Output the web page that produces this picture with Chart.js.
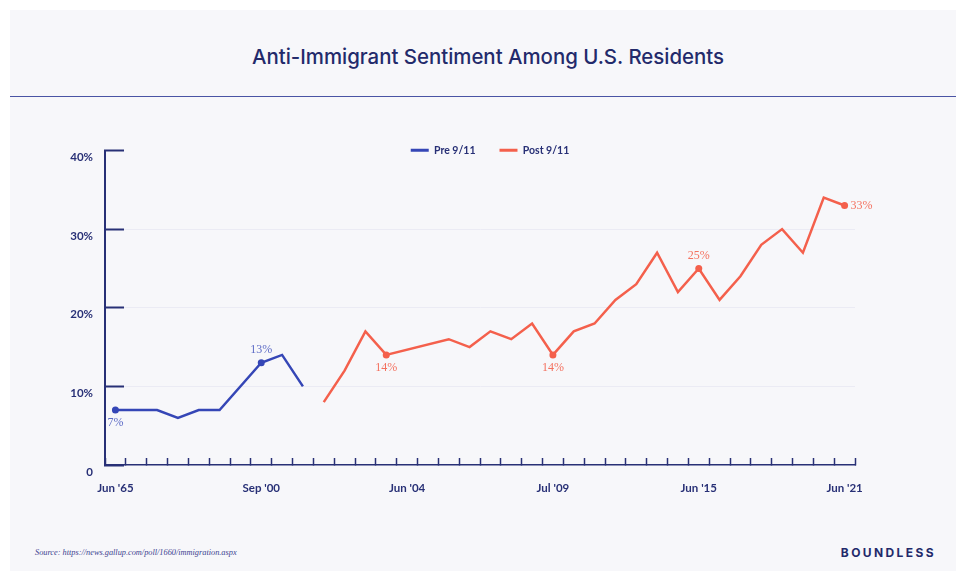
<!DOCTYPE html>
<html>
<head>
<meta charset="utf-8">
<title>Anti-Immigrant Sentiment Among U.S. Residents</title>
<script src="https://cdn.jsdelivr.net/npm/chart.js@4.4.1/dist/chart.umd.min.js"></script>
<style>
  html, body { margin: 0; padding: 0; background: #fff; }
  body { width: 956px; height: 571px; position: relative; overflow: hidden; font-family: Inter, "Noto Sans", sans-serif; }
  .card { position: absolute; left: 10px; top: 10px; right: 0; bottom: 0; background: #f7f7fa; }
  .head { position: absolute; left: 10px; top: 10px; right: 0; height: 86px; border-bottom: 1.5px solid #4a54a4; }
  .head h1 { margin: 0; padding-left: 10px; text-align: center; line-height: 94px; font-size: 20.4px; font-weight: 500; color: #232a6b; }
  #wrap { position: absolute; left: 0; top: 106px; width: 956px; height: 414px; }
  .src { position: absolute; left: 35px; top: 548px; font: italic 8.3px "Liberation Serif", serif; color: #3b4290; }
  .brand { position: absolute; right: 20px; top: 545px; font-size: 12px; font-weight: 700; letter-spacing: 2.4px; color: #232a6b; }
</style>
</head>
<body>
<div class="card"></div>
<div class="head"><h1>Anti-Immigrant Sentiment Among U.S. Residents</h1></div>
<div id="wrap"><canvas id="g-sentimento" width="956" height="414"></canvas></div>
<div class="src">Source: https://news.gallup.com/poll/1660/immigration.aspx</div>
<div class="brand">BOUNDLESS</div>

<script>
// survey dates, only every seventh one is labelled on the axis
var tickLabels = ["Jun '65", "Sep '00", "Jun '04", "Jul '09", "Jun '15", "Jun '21"];
var categories = [
  "Jun '65", '', '', '', '', '', '',
  "Sep '00", '', '', '', '', '', '',
  "Jun '04", '', '', '', '', '', '',
  "Jul '09", '', '', '', '', '', '',
  "Jun '15", '', '', '', '', '', '',
  "Jun '21"
];

// % who want immigration decreased "a lot"
var preValues = [7, 7, 7, 6, 7, 7, null, 13, 14, 10,
  null, null, null, null, null, null, null, null, null, null,
  null, null, null, null, null, null, null, null, null, null,
  null, null, null, null, null, null];
var postValues = [null, null, null, null, null, null, null, null, null, null,
  8, 12, 17, 14, null, null, 16, 15, 17, 16,
  18, 14, 17, 18, 21, 23, 27, 22, 25, 21,
  24, 28, 30, 27, 34, 33];

// points that get a dot and a value label
var callouts = [
  { set: 0, index: 0, side: 'below' },
  { set: 0, index: 7, side: 'above' },
  { set: 1, index: 13, side: 'below' },
  { set: 1, index: 21, side: 'below' },
  { set: 1, index: 28, side: 'above' },
  { set: 1, index: 35, side: 'right' }
];

var navy = '#283076';
var blue = '#3546b6';
var red = '#f4604c';
var labelColors = ['#5d6bc6', '#f4715f'];
var axisFont = { family: 'Lato, Inter, sans-serif', size: 11.5, weight: 'bold' };
var legendFont = { family: 'Lato, Inter, sans-serif', size: 10.5, weight: 'bold' };

function isCallout(set, index) {
  return callouts.some(function (c) { return c.set === set && c.index === index; });
}

var valueLabels = {
  id: 'valueLabels',
  afterDatasetsDraw: function (chart) {
    var ctx = chart.ctx;
    ctx.save();
    ctx.font = '12px "Liberation Serif", serif';
    ctx.textBaseline = 'middle';
    callouts.forEach(function (c) {
      var pt = chart.getDatasetMeta(c.set).data[c.index];
      var v = chart.data.datasets[c.set].data[c.index];
      var x = pt.x, y = pt.y;
      ctx.textAlign = 'center';
      if (c.side === 'above') y -= 13;
      else if (c.side === 'below') y += 13;
      else { x += 6; ctx.textAlign = 'left'; }
      ctx.fillStyle = labelColors[c.set];
      ctx.fillText(v + '%', x, y);
    });
    ctx.restore();
  }
};

// legend row sits level with the top of the y axis, centred at x = 490
var legendAtTop = {
  id: 'legendAtTop',
  afterLayout: function (chart) {
    var lg = chart.legend;
    var pad = lg.options.labels.padding;
    var dy = chart.chartArea.top - (lg.top + pad + 5.5);
    lg.top += dy; lg.bottom += dy;
  },
  beforeDraw: function (chart) {
    var lg = chart.legend, boxes = lg.legendHitBoxes;
    if (!boxes || !boxes.length) return;
    var last = boxes[boxes.length - 1];
    var dx = 490 - (boxes[0].left + last.left + last.width) / 2;
    lg.left += dx; lg.right += dx;
    boxes.forEach(function (b) { b.left += dx; });
  }
};

var ctxSentimento = document.getElementById('g-sentimento');

var gSentimento = new Chart(ctxSentimento, {
  type: 'line',
  data: {
    labels: categories,
    datasets: [
      {
        label: 'Pre 9/11',
        data: preValues,
        borderColor: blue,
        backgroundColor: blue,
        borderWidth: 2.5,
        pointRadius: function (c) { return isCallout(0, c.dataIndex) ? 3.5 : 0; },
        pointBorderWidth: 0,
        spanGaps: true
      },
      {
        label: 'Post 9/11',
        data: postValues,
        borderColor: red,
        backgroundColor: red,
        borderWidth: 2.5,
        pointRadius: function (c) { return isCallout(1, c.dataIndex) ? 3.5 : 0; },
        pointBorderWidth: 0,
        spanGaps: true
      }
    ]
  },
  options: {
    responsive: false,
    animation: false,
    events: [],
    layout: { padding: { left: 0, right: 101, top: 0, bottom: 15 } },
    scales: {
      x: {
        offset: true,
        afterFit: function (scale) { scale.height = 40; },
        grid: { offset: true, drawOnChartArea: false, tickLength: -7, tickColor: navy, tickWidth: 1.5 },
        border: { color: navy, width: 1.5 },
        ticks: {
          autoSkip: false,
          maxRotation: 0,
          padding: 23,
          color: navy,
          font: axisFont
        }
      },
      y: {
        min: 0,
        max: 40,
        afterFit: function (scale) { scale.width = 105; },
        grid: {
          tickLength: -19,
          tickColor: navy,
          tickWidth: 2,
          lineWidth: 1,
          color: function (c) {
            return (c.tick && (c.tick.value === 0 || c.tick.value === 40)) ? 'transparent' : '#ebebf4';
          }
        },
        border: { color: navy, width: 2 },
        ticks: {
          stepSize: 10,
          padding: 31,
          labelOffset: 7,
          color: navy,
          font: axisFont,
          callback: function (v) { return v === 0 ? '0' : v + '%'; }
        }
      }
    },
    plugins: {
      legend: {
        position: 'top',
        labels: {
          boxWidth: 18,
          boxHeight: 3,
          padding: 24,
          color: navy,
          font: legendFont,
          generateLabels: function (chart) {
            return Chart.defaults.plugins.legend.labels.generateLabels(chart).map(function (item) {
              item.lineWidth = 0;
              return item;
            });
          }
        }
      },
      tooltip: { enabled: false }
    }
  },
  plugins: [valueLabels, legendAtTop]
});
</script>
</body>
</html>
